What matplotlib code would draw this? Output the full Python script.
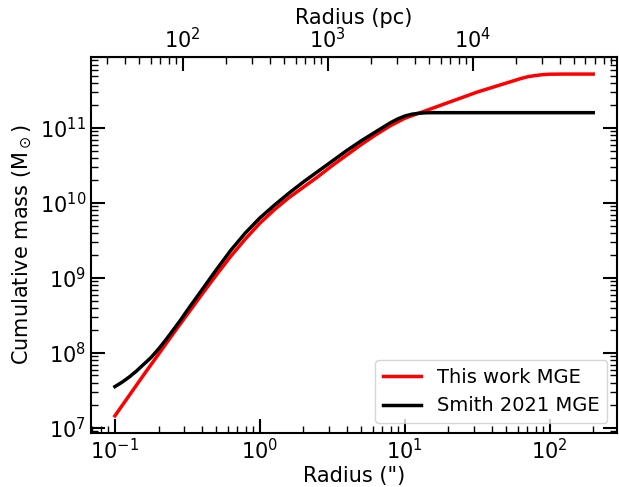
import numpy as np
import matplotlib
matplotlib.use("Agg")
import matplotlib.pyplot as plt

# enclosed mass profiles: log10 radius (arcsec) vs log10 mass (Msun)
log_r_this = [-1.0, -0.8, -0.6, -0.4, -0.3, -0.2, -0.1, 0.0, 0.1, 0.2, 0.3, 0.4,
              0.5, 0.6, 0.7, 0.8, 0.9, 1.0, 1.1, 1.2, 1.3, 1.4, 1.5, 1.6, 1.7,
              1.75, 1.8, 1.85, 1.9, 1.95, 2.0, 2.1, 2.3]
log_m_this = [7.16, 7.71, 8.25, 8.78, 9.04, 9.29, 9.52, 9.73, 9.91, 10.07, 10.21, 10.35,
              10.50, 10.64, 10.78, 10.91, 11.03, 11.13, 11.20, 11.27, 11.34, 11.41, 11.48, 11.54, 11.60,
              11.63, 11.66, 11.685, 11.70, 11.712, 11.718, 11.72, 11.72]

log_r_smith = [-1.0, -0.95, -0.9, -0.85, -0.8, -0.75, -0.7, -0.65, -0.6, -0.55, -0.5,
               -0.4, -0.3, -0.2, -0.1, 0.0, 0.1, 0.2, 0.3, 0.4, 0.5, 0.6, 0.7, 0.8,
               0.85, 0.9, 0.95, 1.0, 1.05, 1.1, 1.15, 1.2, 2.3]
log_m_smith = [7.55, 7.61, 7.68, 7.76, 7.85, 7.94, 8.05, 8.17, 8.30, 8.43, 8.57,
               8.84, 9.11, 9.37, 9.60, 9.80, 9.97, 10.13, 10.28, 10.42, 10.56, 10.70, 10.83, 10.95,
               11.01, 11.07, 11.12, 11.16, 11.185, 11.198, 11.204, 11.205, 11.205]

pc_per_arcsec = 340.0
pc_ticks = [1e2, 1e3, 1e4]

fig = plt.figure(figsize=(6.19, 4.87), dpi=100)
ax = fig.add_axes([0.147, 0.111, 0.850, 0.772])

ax.plot(10 ** np.array(log_r_this), 10 ** np.array(log_m_this),
        color="red", lw=2.5, label="This work MGE")
ax.plot(10 ** np.array(log_r_smith), 10 ** np.array(log_m_smith),
        color="black", lw=2.5, label="Smith 2021 MGE")
ax.set_xscale("log")
ax.set_yscale("log")

ax.set_xlabel('Radius (")', fontsize=15, labelpad=2)
ax.set_ylabel(r"Cumulative mass (M$_\odot$)", fontsize=15)

for s in ax.spines.values():
    s.set_linewidth(1.5)
ax.tick_params(which="major", direction="in", length=10, width=1.5,
               labelsize=15, right=True, top=False)
ax.tick_params(which="minor", direction="in", length=5, width=1,
               right=True, top=False)

# physical radius along the top
secax = ax.secondary_xaxis("top", functions=(lambda x: x * pc_per_arcsec,
                                              lambda x: x / pc_per_arcsec))
secax.set_xticks(pc_ticks)
secax.set_xlabel("Radius (pc)", fontsize=15, labelpad=2)
secax.tick_params(which="major", direction="in", length=10, width=1.5, labelsize=15)
secax.tick_params(which="minor", direction="in", length=5, width=1)

ax.legend(loc="lower right", fontsize=14)

fig.savefig("out.png", dpi=100)
